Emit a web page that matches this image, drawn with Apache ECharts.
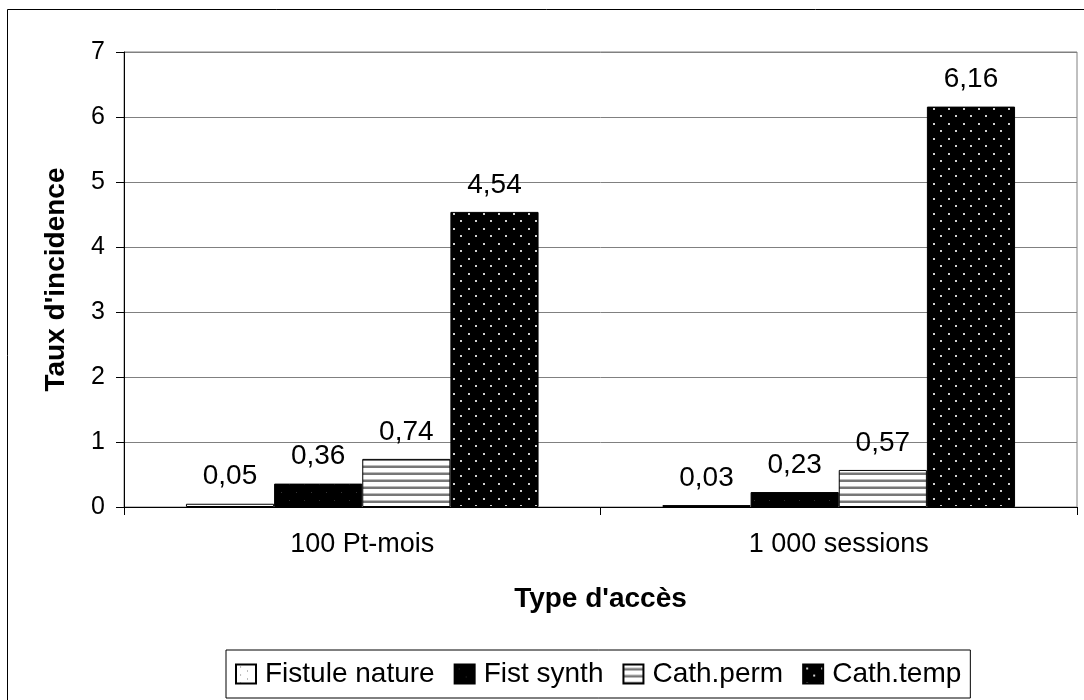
<!DOCTYPE html>
<html>
<head>
<meta charset="utf-8">
<script src="https://cdn.jsdelivr.net/npm/echarts@6/dist/echarts.min.js"></script>
<style>
	html, body { margin: 0; padding: 0; background: #fff; }
	#chart { width: 1084px; height: 700px; }
</style>
</head>
<body>
<div id="chart"></div>
<script>
var categories = ['100 Pt-mois', '1 000 sessions'];
var seriesNames = ['Fistule nature', 'Fist synth', 'Cath.perm', 'Cath.temp'];
var fistuleNature = [0.05, 0.03];
var fistSynth = [0.36, 0.23];
var cathPerm = [0.74, 0.57];
var cathTemp = [4.54, 6.16];
var yTicks = [0, 1, 2, 3, 4, 5, 6, 7];

// small canvas tiles used as fill patterns
function makeTile(w, h, draw){
	var c = document.createElement('canvas');
	c.width = w; c.height = h;
	draw(c.getContext('2d'));
	return c;
}

var patNature = makeTile(15, 8, function(g){
	g.fillStyle = '#fff'; g.fillRect(0, 0, 15, 8);
	g.fillStyle = '#777'; g.fillRect(4, 2, 1, 1); g.fillRect(11, 6, 1, 1);
});
var patSynth = makeTile(15, 16, function(g){
	g.fillStyle = '#000'; g.fillRect(0, 0, 15, 16);
	g.fillStyle = '#333'; g.fillRect(4, 4, 1, 1); g.fillRect(11, 12, 1, 1);
});
var patPerm = makeTile(4, 7, function(g){
	g.fillStyle = '#fff'; g.fillRect(0, 0, 4, 7);
	g.fillStyle = '#bbb'; g.fillRect(0, 3, 4, 1);
	g.fillStyle = '#777'; g.fillRect(0, 4, 4, 2);
});
var patTemp = makeTile(15, 15, function(g){
	g.fillStyle = '#000'; g.fillRect(0, 0, 15, 15);
	g.fillStyle = '#d0d0d0'; g.fillRect(3, 3, 2, 2); g.fillRect(10, 10, 2, 2);
});

function pattern(tile){
	return { image: tile, repeat: 'repeat' };
}

function barSeries(name, data, tile){
	return {
		name: name,
		type: 'bar',
		data: data,
		barGap: '0%',
		barCategoryGap: '26%',
		itemStyle: {
			color: pattern(tile),
			borderColor: '#000',
			borderWidth: 1
		},
		label: {
			show: true,
			position: 'top',
			distance: 13,
			color: '#000',
			fontSize: 28,
			fontFamily: 'Liberation Sans',
			formatter: function(p){ return String(p.value).replace('.', ','); }
		}
	};
}

var chart = echarts.init(document.getElementById('chart'));
chart.setOption({
	animation: false,
	backgroundColor: '#fff',
	textStyle: { fontFamily: 'Liberation Sans', color: '#000' },
	graphic: [{
		type: 'rect',
		shape: { x: 7.5, y: 9.5, width: 1200, height: 800 },
		style: { fill: null, stroke: '#000', lineWidth: 1 },
		silent: true
	}],
	grid: {
		left: 124, top: 52, right: 7, bottom: 193,
		show: true,
		borderColor: '#808080',
		borderWidth: 1
	},
	legend: {
		data: seriesNames,
		bottom: 2,
		left: 226,
		itemWidth: 20,
		itemHeight: 19,
		itemGap: 19,
		padding: [10, 9, 10, 9],
		borderColor: '#000',
		borderWidth: 1,
		icon: 'rect',
		textStyle: { fontSize: 28, color: '#000', fontFamily: 'Liberation Sans', padding: [0, 0, 0, 4] }
	},
	xAxis: {
		type: 'category',
		data: categories,
		name: "Type d'accès",
		nameLocation: 'middle',
		nameGap: 78,
		nameTextStyle: { fontSize: 28, fontWeight: 'bold', color: '#000' },
		axisLine: { lineStyle: { color: '#000' } },
		axisTick: { show: true, length: 8, lineStyle: { color: '#000' } },
		axisLabel: { fontSize: 27, color: '#000', margin: 24 }
	},
	yAxis: {
		type: 'value',
		min: yTicks[0],
		max: yTicks[yTicks.length - 1],
		interval: 1,
		name: "Taux d'incidence",
		nameLocation: 'middle',
		nameRotate: 90,
		nameGap: 54,
		nameTextStyle: { fontSize: 28, fontWeight: 'bold', color: '#000' },
		axisLine: { show: true, lineStyle: { color: '#000' } },
		axisTick: { show: true, length: 8, lineStyle: { color: '#000' } },
		axisLabel: { fontSize: 25, color: '#000', margin: 19 },
		splitLine: { lineStyle: { color: '#808080' } }
	},
	series: [
		barSeries(seriesNames[0], fistuleNature, patNature),
		barSeries(seriesNames[1], fistSynth, patSynth),
		barSeries(seriesNames[2], cathPerm, patPerm),
		barSeries(seriesNames[3], cathTemp, patTemp)
	]
});
</script>
</body>
</html>
